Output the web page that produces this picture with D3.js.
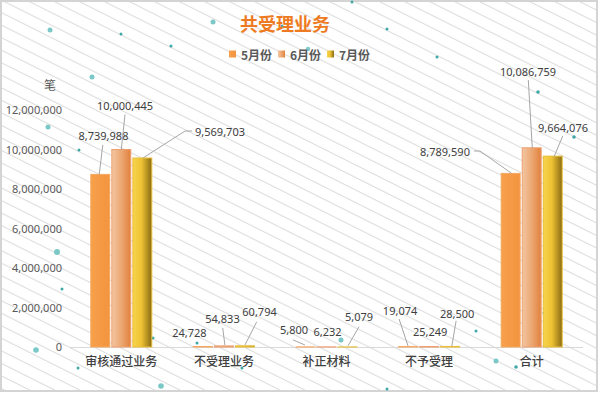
<!DOCTYPE html>
<html><head><meta charset="utf-8">
<script src="https://cdn.jsdelivr.net/npm/d3@7/dist/d3.min.js"></script>
<style>
html,body{margin:0;padding:0;background:#fff;}
svg text{font-family:"Noto Sans CJK SC","Noto Sans",sans-serif;}
</style></head>
<body><svg id="c" width="600" height="400"></svg>
<script>
// ---- data ----
const categories = ["审核通过业务", "不受理业务", "补正材料", "不予受理", "合计"];
const seriesNames = ["5月份", "6月份", "7月份"];
const may  = [8739988, 24728, 5800, 19074, 8789590];
const june = [10000445, 54833, 6232, 25249, 10086759];
const july = [9569703, 60794, 5079, 28500, 9664076];
const yTicks = [0, 2000000, 4000000, 6000000, 8000000, 10000000, 12000000];
const title = "共受理业务";
const unitLabel = "笔";

// ---- layout (label placement relative to bar top, decorative dots) ----
const labelLayout = [
  [ {t:[3.2,-38.4], l:[[-1,0],[2.5,-29.5]]}, {t:[3.7,-43.8], l:[[0,0],[3.7,-35]]}, {t:[77.7,-26.3], l:[[0.7,0],[42.7,-27],[49.7,-27]]} ],
  [ {t:[-13.4,-13.8], l:null}, {t:[-1.4,-27.9], l:[[1,-0.9],[-1.2,-18]]}, {t:[14.6,-34.1], l:[[0,-0.8],[11.8,-24]]} ],
  [ {t:[-11.5,-16.9], l:[[-0.5,-1.9],[-12.5,-7]]}, {t:[1,-14.9], l:null}, {t:[11.5,-30.2], l:[[0.5,-1.2],[11.5,-20.2]]} ],
  [ {t:[-8,-35.9], l:[[0,-0.6],[-9,-27.6]]}, {t:[1,-14.8], l:null}, {t:[7,-33.1], l:[[1.7,-0.4],[6,-25.7]]} ],
  [ {t:[-65.7,-22.4], l:[[1,0],[-30.7,-22.4],[-36.7,-22.4]]}, {t:[-3.7,-76.1], l:[[0.6,0.5],[-3.4,-67.8]]}, {t:[10.3,-28.4], l:[[1.3,0.6],[10,-20.1]]} ]
];
const dots = [[121,34,1.5],[213,22,2.5],[171,46,1.5],[50,30,2.5],[92,77,2.5],[48,127,2.5],[79,150,1.5],
  [57,252,3],[62,289,1.5],[36,350,2.8],[78,368,1.5],[153,338,1.5],[161,386,2.8],[197,343,1.5],[242,368,1.5],
  [282,26,1.5],[352,2,1.5],[387,29,1.5],[308,49,2.2],[437,57,1.5],[538,92,1.8],[574,137,1.8],[544,313,1.5],
  [476,331,1.5],[341,340,2.5],[496,361,2.5],[516,367,1.8],[387,389,1.5]];

const series = [may, june, july];
const svg = d3.select("#c");
const defs = svg.append("defs");

// stripes pattern
const pat = defs.append("pattern").attr("id","stripes").attr("patternUnits","userSpaceOnUse")
  .attr("width", 11.2).attr("height", 40).attr("patternTransform","rotate(-63.4)");
pat.append("line").attr("x1",0.5).attr("y1",0).attr("x2",0.5).attr("y2",40)
  .attr("stroke","#dcdcdc").attr("stroke-width",1.1);

// gradients
const gMay = defs.append("linearGradient").attr("id","gMay");
[["0%","#F7A04C"],["100%","#F39440"]].forEach(s=>gMay.append("stop").attr("offset",s[0]).attr("stop-color",s[1]));
const gJun = defs.append("linearGradient").attr("id","gJun");
[["0%","#F3C6A2"],["55%","#EBA46E"],["100%","#E1813C"]].forEach(s=>gJun.append("stop").attr("offset",s[0]).attr("stop-color",s[1]));
const gJul = defs.append("linearGradient").attr("id","gJul");
[["0%","#F8D44C"],["45%","#EEC233"],["100%","#8A6B14"]].forEach(s=>gJul.append("stop").attr("offset",s[0]).attr("stop-color",s[1]));
const fills = ["url(#gMay)","url(#gJun)","url(#gJul)"];
const strokes = ["#F5A860","#EFA070","#E9BE3A"];

// background
svg.append("rect").attr("x",0).attr("y",0).attr("width",600).attr("height",400).attr("fill","#fff");
svg.append("rect").attr("x",1).attr("y",1).attr("width",596).attr("height",390).attr("fill","url(#stripes)")
  .attr("stroke","#d4d4d4").attr("stroke-width",2);

svg.append("g").selectAll("circle").data(dots).join("circle")
  .attr("cx",d=>d[0]).attr("cy",d=>d[1]).attr("r",d=>d[2])
  .attr("fill",d=>d[2]>2?"#7CC8C8":"#3FA8A8");

// scales
const x0 = d3.scaleBand().domain(categories).range([70,583]).padding(0);
const groupW = 61;
const x1 = d3.scaleBand().domain(seriesNames).range([0,groupW]).paddingInner(0.1);
const y = d3.scaleLinear().domain([0,12000000]).range([347,110]);

// y axis
const yAx = svg.append("g").attr("transform","translate(70,0)")
  .call(d3.axisLeft(y).tickValues(yTicks).tickSize(0).tickPadding(8).tickFormat(d3.format(",")));
yAx.select(".domain").remove();
yAx.selectAll("text").attr("font-size",11).attr("fill","#595959")
  .style("font-family",'"Noto Sans","Noto Sans CJK SC",sans-serif');

svg.append("text").attr("x",50).attr("y",84).attr("text-anchor","middle").attr("dominant-baseline","central")
  .attr("font-size",12).attr("fill","#595959").text(unitLabel);

// x axis
const xAx = svg.append("g").attr("transform","translate(0,347)")
  .call(d3.axisBottom(x0).tickSize(0).tickPadding(10));
xAx.select(".domain").attr("stroke","#d9d9d9").attr("d","M70,0.5H583");
xAx.selectAll("text").attr("font-size",12).attr("fill","#404040").attr("font-weight",500);

// bars
const off = (x0.bandwidth()-groupW)/2;
const groups = svg.append("g").selectAll("g").data(categories).join("g")
  .attr("transform",c=>`translate(${x0(c)+off},0)`);
groups.selectAll("rect").data((c,ci)=>seriesNames.map((s,si)=>({c,ci,s,si,v:series[si][ci]}))).join("rect")
  .attr("x",d=>x1(d.s)).attr("width",x1.bandwidth())
  .attr("y",d=>y(d.v)).attr("height",d=>Math.max(0,y(0)-y(d.v)))
  .attr("fill",d=>fills[d.si]).attr("stroke",d=>strokes[d.si]).attr("stroke-width",1);

// labels
const fmt = d3.format(",");
const lab = svg.append("g");
categories.forEach((c,ci)=>{
  seriesNames.forEach((s,si)=>{
    const v = series[si][ci];
    const bx = x0(c)+off+x1(s)+x1.bandwidth()/2, by = y(v);
    const L = labelLayout[ci][si];
    if (L.l) {
      lab.append("path").attr("d", d3.line()(L.l.map(p=>[bx+p[0], by+p[1]])))
        .attr("fill","none").attr("stroke","#a6a6a6").attr("stroke-width",1);
    }
    lab.append("text").attr("x",bx+L.t[0]).attr("y",by+L.t[1]).attr("text-anchor","middle")
      .attr("dominant-baseline","central").attr("font-size",11).attr("fill","#404040")
      .style("font-family",'"Noto Sans","Noto Sans CJK SC",sans-serif').text(fmt(v));
  });
});

// title
svg.append("text").attr("x",285).attr("y",23).attr("text-anchor","middle").attr("dominant-baseline","central")
  .attr("font-size",18).attr("font-weight","bold").attr("fill","#EE7A22").text(title);

// legend
const legX = [229,278,327];
const leg = svg.append("g").selectAll("g").data(seriesNames).join("g")
  .attr("transform",(d,i)=>`translate(${legX[i]},54)`);
leg.append("rect").attr("x",0).attr("y",-3.5).attr("width",7).attr("height",7).attr("fill",(d,i)=>fills[i]);
leg.append("text").attr("x",12).attr("y",0).attr("dominant-baseline","central")
  .attr("font-size",12).attr("font-weight","bold").attr("fill","#595959").text(d=>d);
</script></body></html>
